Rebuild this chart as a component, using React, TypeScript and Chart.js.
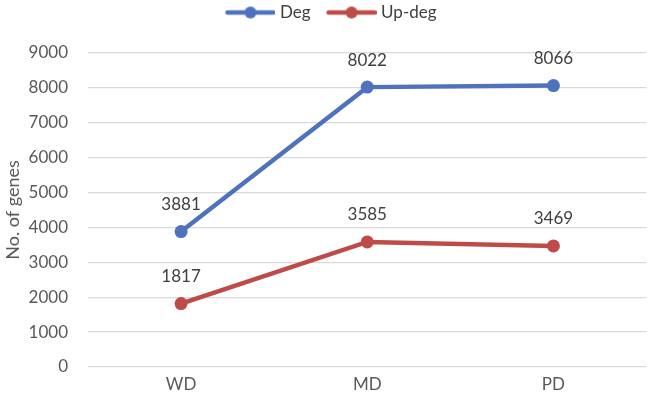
import React, { useEffect, useRef } from "react";
import { Chart, registerables } from "chart.js";

Chart.register(...registerables);

const categories = ["WD", "MD", "PD"];
const degValues = [3881, 8022, 8066];
const upDegValues = [1817, 3585, 3469];
const yTicks = [0, 1000, 2000, 3000, 4000, 5000, 6000, 7000, 8000, 9000];

const BLUE = "#4F72BE";
const RED = "#BE4B48";
const FONT = "Lato, 'Open Sans', sans-serif";

function makeLegendIcon(color: string): HTMLCanvasElement {
  const c = document.createElement("canvas");
  const w = 66;
  const h = 14;
  c.width = w;
  c.height = h;
  const ctx = c.getContext("2d")!;
  const left = 16;
  ctx.strokeStyle = color;
  ctx.lineWidth = 4.5;
  ctx.lineCap = "round";
  ctx.beginPath();
  ctx.moveTo(left + 2, h / 2);
  ctx.lineTo(w - 2, h / 2);
  ctx.stroke();
  ctx.fillStyle = color;
  ctx.beginPath();
  ctx.arc(left + (w - left) / 2, h / 2, 6, 0, Math.PI * 2);
  ctx.fill();
  return c;
}

const valueLabels = {
  id: "valueLabels",
  afterDatasetsDraw(chart: any) {
    const ctx = chart.ctx;
    ctx.save();
    ctx.font = `17px ${FONT}`;
    ctx.fillStyle = "#404040";
    ctx.textAlign = "center";
    ctx.textBaseline = "middle";
    chart.data.datasets.forEach((ds: any, i: number) => {
      const meta = chart.getDatasetMeta(i);
      meta.data.forEach((pt: any, j: number) => {
        ctx.fillText(String(ds.data[j]), pt.x, pt.y - 27);
      });
    });
    ctx.restore();
  },
};

export default function App() {
  const ref = useRef<HTMLCanvasElement | null>(null);
  useEffect(() => {
    document.body.style.margin = "0";
    const blueIcon = makeLegendIcon(BLUE);
    const redIcon = makeLegendIcon(RED);
    const chart = new Chart(ref.current!, {
      type: "line",
      data: {
        labels: categories,
        datasets: [
          {
            label: "Deg",
            data: degValues,
            borderColor: BLUE,
            backgroundColor: BLUE,
            borderWidth: 4.5,
            pointRadius: 6.5,
            pointHoverRadius: 6.5,
            pointBackgroundColor: BLUE,
            pointBorderWidth: 0,
            pointStyle: "circle",
            tension: 0,
          },
          {
            label: "Up-deg",
            data: upDegValues,
            borderColor: RED,
            backgroundColor: RED,
            borderWidth: 4.5,
            pointRadius: 6.5,
            pointHoverRadius: 6.5,
            pointBackgroundColor: RED,
            pointBorderWidth: 0,
            pointStyle: "circle",
            tension: 0,
          },
        ],
      },
      options: {
        animation: false,
        responsive: false,
        maintainAspectRatio: false,
        layout: { padding: { top: 0, right: 3, bottom: 0, left: 0 } },
        plugins: {
          legend: {
            position: "top",
            labels: {
              usePointStyle: true,
              pointStyleWidth: 58,
              boxHeight: 14,
              padding: 4,
              color: "#404040",
              font: { family: FONT, size: 17 },
              generateLabels: () => [
                { text: "Deg", pointStyle: blueIcon as any, fillStyle: BLUE, strokeStyle: BLUE, lineWidth: 0, datasetIndex: 0, fontColor: "#404040" } as any,
                { text: "Up-deg", pointStyle: redIcon as any, fillStyle: RED, strokeStyle: RED, lineWidth: 0, datasetIndex: 1, fontColor: "#404040" } as any,
              ],
            },
          },
          title: {
            display: true,
            text: " ",
            weight: 500,
            font: { size: 10 },
            padding: { top: 0, bottom: 10 },
          } as any,
          tooltip: { enabled: false },
        },
        scales: {
          x: {
            offset: true,
            grid: { display: false, drawTicks: false },
            border: { display: false },
            ticks: { color: "#595959", font: { family: FONT, size: 17 }, padding: 7 },
            afterFit: (scale: any) => {
              scale.height = 35;
            },
          },
          y: {
            min: 0,
            max: 9000,
            afterBuildTicks: (scale: any) => {
              scale.ticks = yTicks.map((v) => ({ value: v }));
            },
            grid: { color: "#D9D9D9", lineWidth: 1.3, drawTicks: false },
            border: { display: false },
            ticks: {
              color: "#595959",
              font: { family: FONT, size: 17 },
              padding: 20,
              callback: (v: any) => String(v),
            },
            title: {
              display: true,
              text: "No. of genes",
              color: "#595959",
              font: { family: FONT, size: 18 },
              padding: { top: 2, bottom: 0 },
            },
            afterFit: (scale: any) => {
              scale.width = 88;
            },
          },
        },
      },
      plugins: [valueLabels],
    });
    return () => chart.destroy();
  }, []);
  return (
    <div style={{ width: 653, height: 402, background: "#fff" }}>
      <canvas ref={ref} width={653} height={402} style={{ display: "block" }} />
    </div>
  );
}
